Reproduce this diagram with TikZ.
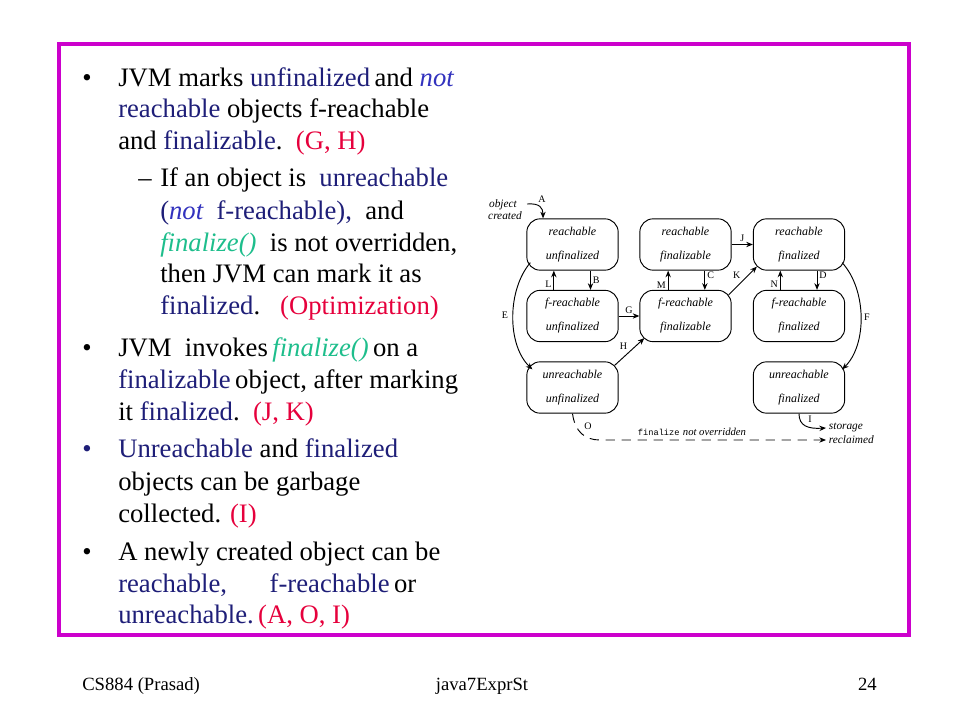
\documentclass[tikz,border=0pt]{standalone}
\usepackage{fontspec}
\setmainfont{Liberation Serif}
\setmonofont{Liberation Mono}
\usetikzlibrary{arrows.meta}
\definecolor{frm}{RGB}{204,0,204}
\definecolor{nv}{RGB}{30,30,120}
\definecolor{lb}{RGB}{50,50,190}
\definecolor{rd}{RGB}{230,0,60}
\definecolor{gr}{RGB}{30,190,140}
\newcommand{\NV}[1]{\textcolor{nv}{#1}}
\newcommand{\LB}[1]{\textcolor{lb}{\itshape #1}}
\newcommand{\RD}[1]{\textcolor{rd}{#1}}
\newcommand{\GR}[1]{\textcolor{gr}{\itshape #1}}
\begin{document}
\begin{tikzpicture}[x=0.75pt,y=-0.75pt,
  txt/.style={anchor=base west, inner sep=0pt, font=\fontsize{20}{24}\selectfont},
  bul/.style={anchor=base, inner sep=0pt, font=\fontsize{20}{24}\selectfont},
  box/.style={draw, rounded corners=10pt, minimum width=68.5pt, minimum height=38.5pt,
    inner sep=0pt, align=center, font=\fontsize{9}{18}\selectfont\itshape, line width=0.7pt},
  arr/.style={-{Stealth[length=5pt,width=4pt]}, line width=0.7pt},
  lab/.style={font=\fontsize{7.5}{8}\selectfont, inner sep=1.5pt},
  dtxt/.style={font=\fontsize{8.5}{10}\selectfont\itshape, inner sep=0pt},
  foot/.style={font=\fontsize{14}{16}\selectfont, inner sep=0pt}]
\useasboundingbox (0,0) rectangle (960,720);
\fill[white] (0,0) rectangle (960,720);
\draw[frm, line width=3.5pt] (59,44) rectangle (909,635);

% bullet 1
\node[bul] (bu1) at (87,87) {•};
\node[txt] (t1) at (118,87) {JVM marks \NV{unfinalized}\,and \LB{not}};
\node[txt] (t2) at (118,118) {\NV{reachable} objects f-reachable};
\node[txt] (t3) at (118,150) {and \NV{finalizable}.\ \ \RD{(G, H)}};
\node[bul] (da1) at (145,187) {–};
\node[txt] (t4) at (160,187) {If an object is\ \ \NV{unreachable}};
\node[txt] (t5) at (160,220) {\NV{(\LB{not}\ \ f-reachable),}\ \ and};
\node[txt] (t6) at (160,252) {\GR{finalize()}\ \ is not overridden,};
\node[txt] (t7) at (160,283) {then JVM can mark it as};
\node[txt] (t8) at (160,315) {\NV{finalized}.\ \ \ \RD{(Optimization)}};
% bullet 2
\node[bul] (bu2) at (87,356) {•};
\node[txt] (t9) at (118,356) {JVM\ \ invokes\,\GR{finalize()}\,on a};
\node[txt] (t10) at (118,388) {\NV{finalizable}\,object, after marking};
\node[txt] (t11) at (118,420) {it \NV{finalized}.\ \ \RD{(J, K)}};
% bullet 3
\node[bul, text=nv] (bu3) at (87,457) {•};
\node[txt] (t12) at (118,457) {\NV{Unreachable} and \NV{finalized}};
\node[txt] (t13) at (118,490) {objects can be garbage};
\node[txt] (t14) at (118,522) {collected. \RD{(I)}};
% bullet 4
\node[bul] (bu4) at (87,560) {•};
\node[txt] (t15) at (118,560) {A newly created object can be};
\node[txt] (t16) at (118,592) {\NV{reachable,}\hspace{1.6em}\NV{f-reachable}\,or};
\node[txt] (t17) at (118,623) {\NV{unreachable.}\,\RD{(A, O, I)}};

% diagram boxes
\node[box] (b1) at (572.5,244.5) {reachable\\unfinalized};
\node[box] (b2) at (685.5,244.5) {reachable\\finalizable};
\node[box] (b3) at (799,244.5) {reachable\\finalized};
\node[box] (b4) at (572.5,316) {f-reachable\\unfinalized};
\node[box] (b5) at (685.5,316) {f-reachable\\finalizable};
\node[box] (b6) at (799,316) {f-reachable\\finalized};
\node[box] (b7) at (572.5,387.5) {unreachable\\unfinalized};
\node[box] (b8) at (799,387.5) {unreachable\\finalized};

% texts
\node[dtxt] (ob) at (503,205) {object};
\node[dtxt] (cr) at (505,216) {created};
\node[dtxt, anchor=west, inner sep=2pt] (st) at (826,428) {storage};
\node[dtxt, anchor=west, inner sep=2pt] (rc) at (826,440) {reclaimed};
\node[inner sep=0pt] (fn) at (692,432) {{\ttfamily\fontsize{6.5}{8}\selectfont finalize} {\fontsize{8}{10}\selectfont\itshape not overridden}};

% A
\coordinate (a0) at (527,204);
\draw[arr] (a0) .. controls (540,203) and (543,208) .. ([shift={(-29.5,0)}]b1.north);
\node[lab] (lA) at (542,199) {A};
% vertical arrows
\draw[arr] ([xshift=13.5pt]b1.south) -- ([xshift=13.5pt]b4.north) node[lab, midway, right] (lB) {B};
\draw[arr] ([xshift=-14pt]b4.north) -- ([xshift=-14pt]b1.south) node[lab, pos=0.3, left] (lL) {L};
\draw[arr] ([xshift=14.5pt]b2.south) -- ([xshift=14.5pt]b5.north) node[lab, pos=0.25, right] (lC) {C};
\draw[arr] ([xshift=-13pt]b5.north) -- ([xshift=-13pt]b2.south) node[lab, pos=0.25, left] (lM) {M};
\draw[arr] ([xshift=13.5pt]b3.south) -- ([xshift=13.5pt]b6.north) node[lab, pos=0.25, right] (lD) {D};
\draw[arr] ([xshift=-14pt]b6.north) -- ([xshift=-14pt]b3.south) node[lab, pos=0.3, left] (lN) {N};
% horizontal / diagonal
\draw[arr] (b4.east) -- (b5.west) node[lab, midway, above] (lG) {G};
\draw[arr] (b2.east) -- (b3.west) node[lab, midway, above] (lJ) {J};
\draw[arr] ([shift={(-4,4)}]b7.north east) -- ([shift={(5,-4)}]b5.south west) node[lab, midway, above left] (lH) {H};
\draw[arr] ([shift={(-3,5)}]b5.north east) -- ([shift={(4,-4)}]b3.south west) node[lab, midway, above left] (lK) {K};
% E and F
\draw[arr] ([shift={(4,-8)}]b1.south west) .. controls (507,290) and (507,345) .. ([shift={(6,8)}]b7.north west);
\node[lab] (lE) at (505,315) {E};
\draw[arr] ([shift={(-3,-8)}]b3.south east) .. controls (867,290) and (867,345) .. ([shift={(-3,8)}]b8.north east);
\node[lab] (lF) at (867,317) {F};
% I and O
\draw[arr] (b8.south) .. controls (799,426) and (808,429) .. (st.west);
\node[lab] (lI) at (810,419) {I};
\draw[arr, dash pattern=on 7pt off 5pt] (b7.south) .. controls (575,432) and (585,440) .. (600,440) -- (rc.west);
\node[lab] (lO) at (588,426) {O};

% footer
\node[foot, anchor=base west] (f1) at (82,690) {CS884 (Prasad)};
\node[foot, anchor=base] (f2) at (482,690) {java7ExprSt};
\node[foot, anchor=base east] (f3) at (877,690) {24};
\end{tikzpicture}
\end{document}
